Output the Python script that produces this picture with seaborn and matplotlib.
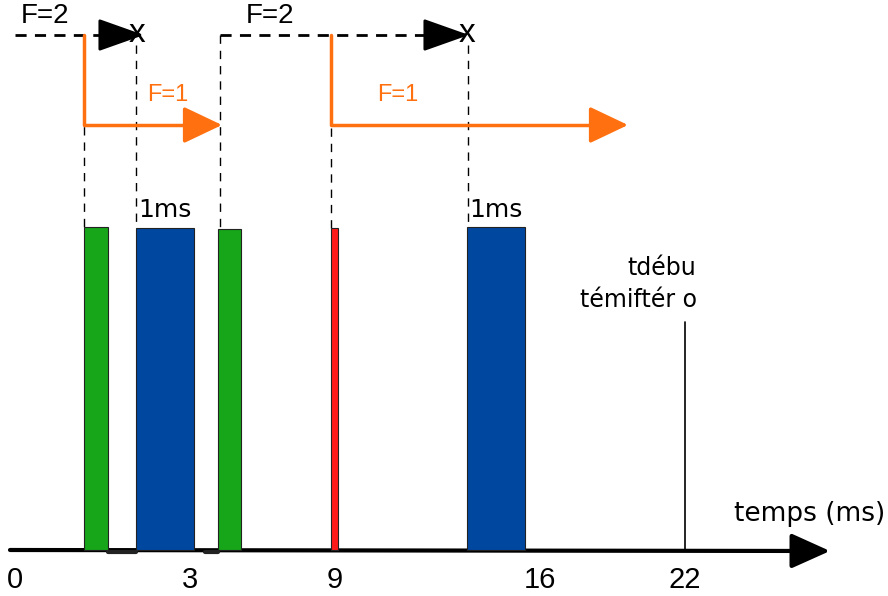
import matplotlib
matplotlib.use("Agg")
import matplotlib.pyplot as plt
import seaborn as sns

# Diagram drawn in a pixel-like coordinate system (x right, y down)
bar_left = [84, 136, 218, 331, 467]
bar_right = [108, 194, 241, 338, 525]
bar_top = [227, 228, 229, 228, 227]
bar_colors = ["#17a51a", "#0047a0", "#17a51a", "#ff1a1a", "#0047a0"]
baseline = 550

tick_x = [15, 190, 335, 540, 685]
tick_labels = ["0", "3", "9", "16", "22"]

# F=2 windows (dashed) : start, arrow end, label x
f2_start = [15, 220]
f2_end = [140, 465]
f2_x_mark = [137, 467]
f2_label_x = [45, 270]

# F=1 windows (orange) : corner x, arrow end, label x
f1_start = [84, 331]
f1_end = [222, 628]
f1_label_x = [168, 398]

# vertical dashed guides : x, top, bottom
guide_x = [84, 136, 220, 331, 468]
guide_top = [35, 45, 35, 128, 45]
guide_bottom = [227, 228, 229, 228, 227]

orange = "#ff7010"


def main():
    sns.set_theme(style="white")
    plt.rcParams["font.family"] = ["Liberation Sans", "DejaVu Sans"]
    plt.rcParams["text.color"] = "black"

    fig = plt.figure(figsize=(8.88, 5.96), dpi=100)
    ax = fig.add_axes([0, 0, 1, 1])
    ax.set_xlim(0, 888)
    ax.set_ylim(596, 0)
    ax.axis("off")

    # bars
    widths = [r - l for l, r in zip(bar_left, bar_right)]
    heights = [baseline - t for t in bar_top]
    ax.bar(bar_left, heights, width=widths, bottom=bar_top, align="edge",
           color=bar_colors, edgecolor="#222222", linewidth=0.8, zorder=3)

    # time axis
    ax.annotate("", xy=(830, 551), xytext=(10, 550),
                arrowprops=dict(arrowstyle="-|>,head_length=2.0,head_width=0.9",
                                color="black", lw=3, shrinkA=0, shrinkB=0), zorder=2)
    ax.plot([108, 136], [552, 552], color="#222222", lw=3)
    ax.plot([205, 218], [552, 552], color="#222222", lw=3)
    for x, lab in zip(tick_x, tick_labels):
        ax.text(x, 580, lab, ha="center", va="center", fontsize=21,
                family=["Liberation Sans Narrow", "Liberation Sans"])
    ax.text(810, 514, "temps (ms)", ha="center", va="center", fontsize=19,
            family="DejaVu Sans")

    # marker at 22 ms
    ax.plot([685, 685], [322, 550], color="black", lw=1.2)
    ax.text(627, 268, "tdébu", ha="left", va="center", fontsize=17, family="DejaVu Sans")
    ax.text(580, 300, "témiftér o", ha="left", va="center", fontsize=17, family="DejaVu Sans")

    # dashed guides
    for x, t, b in zip(guide_x, guide_top, guide_bottom):
        ax.plot([x, x], [t, b], color="black", lw=1, ls=(0, (6, 5)))

    # F=2 windows
    for s, e, xm, lx in zip(f2_start, f2_end, f2_x_mark, f2_label_x):
        ax.plot([s, e - 40], [35, 35], color="black", lw=2, ls=(0, (4, 3)))
        ax.annotate("", xy=(e + 4, 35), xytext=(e - 34, 35),
                    arrowprops=dict(arrowstyle="-|>,head_length=2.4,head_width=0.85",
                                    color="black", lw=2, shrinkA=0, shrinkB=0))
        ax.text(xm, 34, "x", ha="center", va="center", fontsize=24)
        ax.text(lx, 16, "F=2", ha="center", va="center", fontsize=20)

    # F=1 windows
    for s, e, lx in zip(f1_start, f1_end, f1_label_x):
        ax.plot([s, s, e - 30], [35, 125, 125], color=orange, lw=2.5)
        ax.annotate("", xy=(e, 125), xytext=(e - 34, 125),
                    arrowprops=dict(arrowstyle="-|>,head_length=2.0,head_width=0.95",
                                    color=orange, lw=2.5, shrinkA=0, shrinkB=0))
        ax.text(lx, 95, "F=1", ha="center", va="center", fontsize=17, color=orange)

    # 1ms labels
    for x in [bar_left[1], bar_left[4]]:
        ax.text(x + 29, 210, "1ms", ha="center", va="center", fontsize=18,
                family="DejaVu Sans")

    fig.savefig("out.png", dpi=100)


if __name__ == "__main__":
    main()
